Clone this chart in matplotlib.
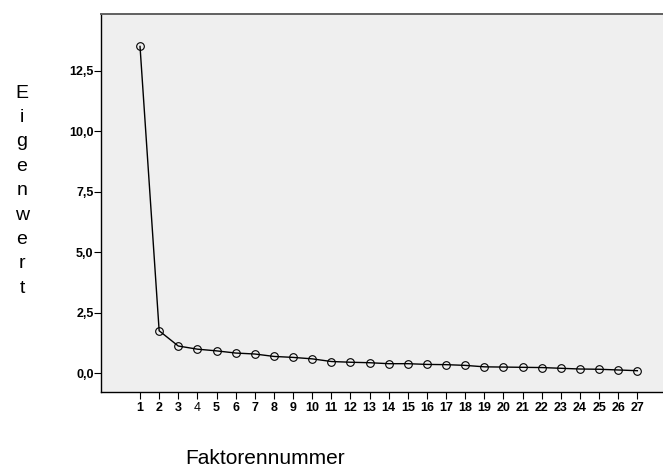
import matplotlib
matplotlib.use("Agg")
import matplotlib.pyplot as plt

# eigenvalues from the factor analysis, one per factor
factors = list(range(1, 28))
eigenvalues = [13.51, 1.76, 1.13, 1.00, 0.93, 0.84, 0.80, 0.70, 0.66, 0.60,
               0.49, 0.46, 0.44, 0.40, 0.40, 0.37, 0.36, 0.33, 0.27, 0.26,
               0.25, 0.24, 0.21, 0.18, 0.17, 0.14, 0.11]
y_ticks = [0.0, 2.5, 5.0, 7.5, 10.0, 12.5]
y_ticklabels = ["0,0", "2,5", "5,0", "7,5", "10,0", "12,5"]

plt.rcParams['font.family'] = ['Liberation Sans', 'DejaVu Sans']

W, H = 663, 467
fig = plt.figure(figsize=(W / 100, H / 100), dpi=100)
ax = fig.add_axes([101 / W, (H - 392) / H, (W - 101) / W, (392 - 14) / H])
ax.set_facecolor('#efefef')

ax.plot(factors, eigenvalues, color='black', linewidth=1.0, marker='o',
        markersize=5.5, markerfacecolor='none', markeredgecolor='black',
        markeredgewidth=0.8, zorder=3)

ax.set_xlim(-1.04, 28.34)
ax.set_ylim(-0.77, 14.85)

ax.set_xticks(factors)
ax.set_xticklabels([str(f) for f in factors])
ax.set_yticks(y_ticks)
ax.set_yticklabels(y_ticklabels)

for lab in ax.get_xticklabels() + ax.get_yticklabels():
    lab.set_fontsize(9)
    lab.set_fontweight('bold')
# SPSS drew factor 4 in regular weight
ax.get_xticklabels()[3].set_fontweight('normal')

ax.tick_params(axis='x', direction='out', length=5, width=0.8, pad=2.5)
ax.tick_params(axis='y', direction='out', length=5, width=0.8, pad=0.3)

ax.spines['right'].set_visible(False)
ax.spines['left'].set_linewidth(1.0)
ax.spines['bottom'].set_linewidth(1.0)
ax.spines['top'].set_linewidth(1.4)
ax.spines['top'].set_color('#606060')

# stacked vertical axis title
ylabel = "Eigenwert"
for i, ch in enumerate(ylabel):
    fig.text(22 / W, 1 - (97.5 + i * 24.4) / H, ch, fontsize=14,
             ha='center', va='baseline')

fig.text(265 / W, 1 - 464 / H, "Faktorennummer", fontsize=15,
         ha='center', va='baseline')

fig.savefig('out.png', dpi=100)
